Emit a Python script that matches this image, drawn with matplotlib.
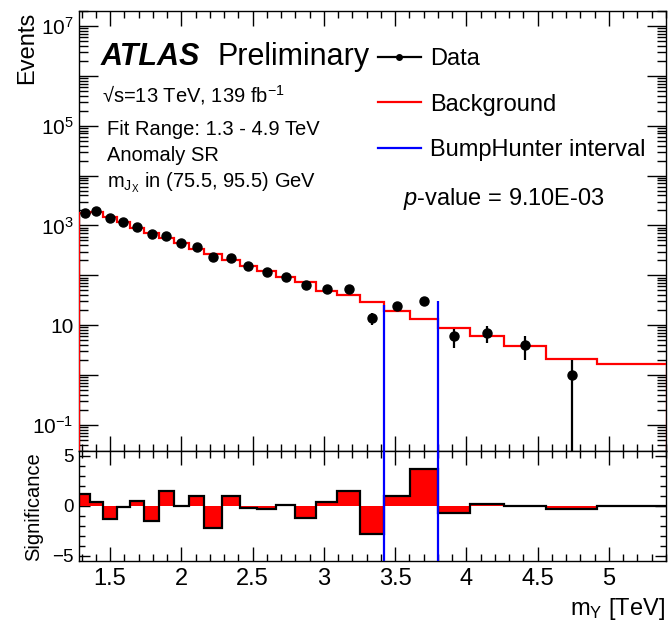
import numpy as np
import matplotlib
matplotlib.use('Agg')
import matplotlib.pyplot as plt
from matplotlib.lines import Line2D
from matplotlib.ticker import FixedLocator, FuncFormatter, LogLocator, MultipleLocator, NullFormatter

plt.rcParams['font.family'] = ['Liberation Sans', 'DejaVu Sans']
plt.rcParams['mathtext.fontset'] = 'custom'
plt.rcParams['mathtext.rm'] = 'Liberation Sans'
plt.rcParams['mathtext.it'] = 'Liberation Sans:italic'
plt.rcParams['mathtext.bf'] = 'Liberation Sans:bold'
plt.rcParams['axes.unicode_minus'] = True

# bin edges in TeV
edges = [1.282, 1.360, 1.449, 1.547, 1.640, 1.739, 1.846, 1.945, 2.053, 2.160,
         2.287, 2.408, 2.534, 2.666, 2.797, 2.947, 3.092, 3.256, 3.424, 3.607,
         3.801, 4.028, 4.267, 4.560, 4.918, 5.410]
data = [1800, 1930, 1420, 1180, 925, 680, 603, 450, 363, 232, 219, 154, 117, 93,
        63, 52, 52, 14, 24, 31, 6, 7, 4, 1, 0]
background = [1760, 1900, 1470, 1180, 910, 720, 570, 450, 345, 265, 205, 156, 120,
              92, 72, 49, 40, 29, 19, 13.6, 8.6, 6.1, 3.9, 2.06, 1.63]
significance = [1.17, 0.43, -1.27, -0.07, 0.53, -1.5, 1.5, -0.03, 1.0, -2.17, 1.0,
                -0.2, -0.27, 0.1, -1.2, 0.4, 1.5, -2.8, 1.03, 3.73, -0.67, 0.2,
                0.03, -0.27, 0.03]
bump_edges = [3.424, 3.801]
bump_tops = [26, 31]

W, H = 669, 623
fig = plt.figure(figsize=(W / 100, H / 100), dpi=100)


def fx(px):
    return px / W


def fy(py):
    return 1 - py / H


ax = fig.add_axes([fx(79), fy(451), fx(666) - fx(79), fy(11) - fy(451)])
ax2 = fig.add_axes([fx(79), fy(561), fx(666) - fx(79), fy(451) - fy(561)], sharex=ax)

edges_a = np.array(edges)
centers = 0.5 * (edges_a[1:] + edges_a[:-1])
data_a = np.array(data, dtype=float)
mask = data_a > 0

# upper panel
ax.stairs(background, edges, color='red', lw=1.6, zorder=3)
ax.errorbar(centers[mask], data_a[mask], yerr=np.sqrt(data_a[mask]), fmt='o',
            color='black', markersize=6.5, elinewidth=1.6, capsize=0, zorder=4)
ax.vlines(bump_edges, 0.03, bump_tops, color='blue', lw=1.6, zorder=5)
ax.set_yscale('log')
ax.set_ylim(0.03, 2e7)
ax.set_xlim(1.282, 5.40)

odd = {7: r'$10^{7}$', 5: r'$10^{5}$', 3: r'$10^{3}$', 1: '10', -1: r'$10^{-1}$'}
ax.yaxis.set_major_locator(FixedLocator([10.0 ** k for k in range(-1, 8)]))
ax.yaxis.set_major_formatter(FuncFormatter(lambda v, p: odd.get(int(round(np.log10(v))), '')))
ax.yaxis.set_minor_locator(LogLocator(base=10, subs=np.arange(2, 10), numticks=30))
ax.yaxis.set_minor_formatter(NullFormatter())
ax.tick_params(axis='y', which='major', direction='in', left=True, right=True,
               length=13.5, width=1, labelsize=15, pad=4)
ax.tick_params(axis='y', which='minor', direction='in', left=True, right=True,
               length=6.5, width=1)
ax.tick_params(axis='x', which='major', direction='in', top=True, bottom=True,
               length=10.5, width=1, labelbottom=False)
ax.tick_params(axis='x', which='minor', direction='in', top=True, bottom=True,
               length=5, width=1)

# lower panel
ax2.stairs(significance, edges, baseline=0, fill=True, color='red', lw=0, zorder=2)
ax2.stairs(significance, edges, baseline=None, color='black', lw=1.6, zorder=3)
for e in bump_edges:
    ax2.axvline(e, color='blue', lw=1.6, zorder=5)
ax2.set_ylim(-5.5, 5.5)
ax2.yaxis.set_major_locator(FixedLocator([-5, 0, 5]))
ax2.yaxis.set_minor_locator(MultipleLocator(1))
ax2.xaxis.set_major_locator(MultipleLocator(0.5))
ax2.xaxis.set_minor_locator(MultipleLocator(0.1))
ax2.xaxis.set_major_formatter(FuncFormatter(lambda v, p: f'{v:g}'))
ax2.tick_params(axis='y', which='major', direction='in', left=True, right=True,
                length=8, width=1, labelsize=13.5, pad=4)
ax2.tick_params(axis='y', which='minor', direction='in', left=True, right=True,
                length=4.3, width=1)
ax2.tick_params(axis='x', which='major', direction='in', top=True, bottom=True,
                length=10, width=1, labelsize=17, pad=5)
ax2.tick_params(axis='x', which='minor', direction='in', top=True, bottom=True,
                length=5, width=1)

for a in (ax, ax2):
    for s in a.spines.values():
        s.set_linewidth(1)

# labels
fig.text(fx(27), fy(12), 'Events', rotation=90, ha='center', va='top', fontsize=17)
fig.text(fx(34), fy(507), 'Significance', rotation=90, ha='center', va='center', fontsize=14.5)
fig.text(fx(665), fy(615), r'm$_{\mathrm{Y}}$ [TeV]', ha='right', va='baseline', fontsize=17)

fig.text(fx(101), fy(65), 'ATLAS', fontsize=22, fontweight='bold', fontstyle='italic',
         va='baseline')
fig.text(fx(217), fy(65), 'Preliminary', fontsize=22, va='baseline')
fig.text(fx(102), fy(102), '\u221as=13 TeV, 139 fb$^{-1}$', fontsize=14.5,
         va='baseline')
fig.text(fx(107), fy(135), 'Fit Range: 1.3 - 4.9 TeV', fontsize=14.5, va='baseline')
fig.text(fx(107), fy(161), 'Anomaly SR', fontsize=14.5, va='baseline')
fig.text(fx(107), fy(187), r'm$_{\mathrm{J}_{\mathrm{X}}}$ in (75.5, 95.5) GeV',
         fontsize=14.5, va='baseline')
fig.text(fx(403), fy(205), r'$p$-value = 9.10E-03', fontsize=17, va='baseline')

handles = [
    Line2D([], [], color='black', marker='o', markersize=4, lw=1.6),
    Line2D([], [], color='red', lw=1.6),
    Line2D([], [], color='blue', lw=1.6),
]
ax.legend(handles, ['Data', 'Background', 'BumpHunter interval'],
          loc='upper left', bbox_to_anchor=(fx(378), fy(48)),
          bbox_transform=fig.transFigure, frameon=False, fontsize=17,
          handlelength=1.8, handletextpad=0.4, labelspacing=1.0,
          borderpad=0, borderaxespad=0)

fig.savefig('out.png', dpi=100)
plt.close(fig)
